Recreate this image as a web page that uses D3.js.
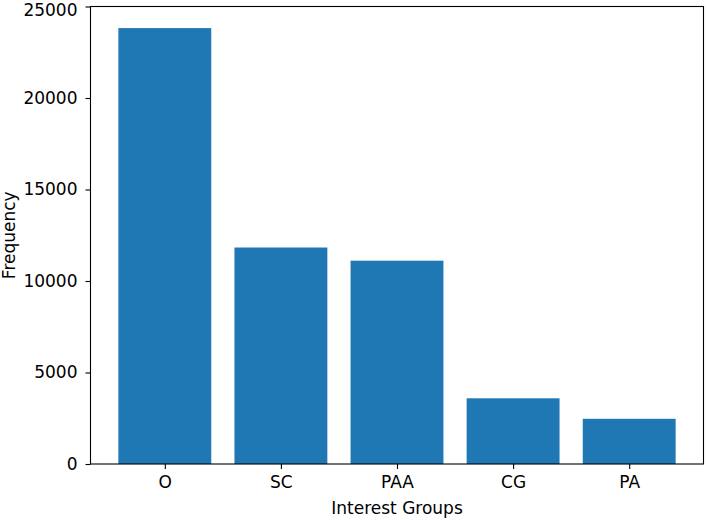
<!DOCTYPE html>
<html>
<head>
<meta charset="utf-8">
<script src="https://cdnjs.cloudflare.com/ajax/libs/d3/7.8.5/d3.min.js"></script>
<style>
  body { margin: 0; background: #fff; }
  svg text { font-family: "DejaVu Sans", sans-serif; fill: #000; }
</style>
</head>
<body>
<div id="chart"></div>
<script>
// data
const groups = ["O", "SC", "PAA", "CG", "PA"];
const counts = [23820, 11830, 11110, 3590, 2470];
const yTicks = [0, 5000, 10000, 15000, 20000, 25000];

const W = 708, H = 520;
const margin = { top: 6.5, right: 4.5, bottom: 56, left: 90.5 };
const width = W - margin.left - margin.right,
      height = H - margin.top - margin.bottom;
const fontSize = 17;

const svg = d3.select('#chart').append('svg')
    .attr('width', W)
    .attr('height', H);

const g = svg.append('g')
    .attr('transform', `translate(${margin.left},${margin.top})`);

// matplotlib-like x range: bars of width 0.8, 5% margins
const x = d3.scaleLinear().domain([-0.64, groups.length - 1 + 0.64]).range([0, width]);
const y = d3.scaleLinear().domain([0, 25000]).range([height, 0]);

g.selectAll('rect.bar')
    .data(counts)
    .join('rect')
        .attr('class', 'bar')
        .attr('x', (d, i) => x(i - 0.4))
        .attr('width', x(0.8) - x(0))
        .attr('y', d => y(d))
        .attr('height', d => y(0) - y(d))
        .attr('fill', '#1f77b4');

// axes
const xAxis = d3.axisBottom(x)
    .tickValues(d3.range(groups.length))
    .tickFormat(i => groups[i])
    .tickSize(5)
    .tickPadding(7);

const yAxis = d3.axisLeft(y)
    .tickValues(yTicks)
    .tickFormat(d3.format('d'))
    .tickSize(5)
    .tickPadding(8);

g.append('g')
    .attr('transform', `translate(0,${height})`)
    .call(xAxis)
    .call(s => s.select('.domain').remove())
    .selectAll('text').attr('font-size', fontSize).attr('font-family', 'DejaVu Sans');

g.append('g')
    .call(yAxis)
    .call(s => s.select('.domain').remove())
    .selectAll('text')
        .attr('font-size', fontSize)
        .attr('font-family', 'DejaVu Sans')
        // keep the top label inside the page, as in the reference
        .attr('dy', d => d === 25000 ? '0.5em' : '0.32em');

g.selectAll('.tick line').attr('stroke', '#000').attr('stroke-width', 1.1);

// frame
g.append('rect')
    .attr('x', 0).attr('y', 0)
    .attr('width', width).attr('height', height)
    .attr('fill', 'none')
    .attr('stroke', '#000')
    .attr('stroke-width', 1.1);

// axis labels
svg.append('text')
    .attr('x', margin.left + width / 2)
    .attr('y', 514)
    .attr('text-anchor', 'middle')
    .attr('font-size', fontSize)
    .text('Interest Groups');

svg.append('text')
    .attr('transform', `translate(15,${margin.top + height / 2}) rotate(-90)`)
    .attr('text-anchor', 'middle')
    .attr('font-size', fontSize)
    .text('Frequency');
</script>
</body>
</html>
